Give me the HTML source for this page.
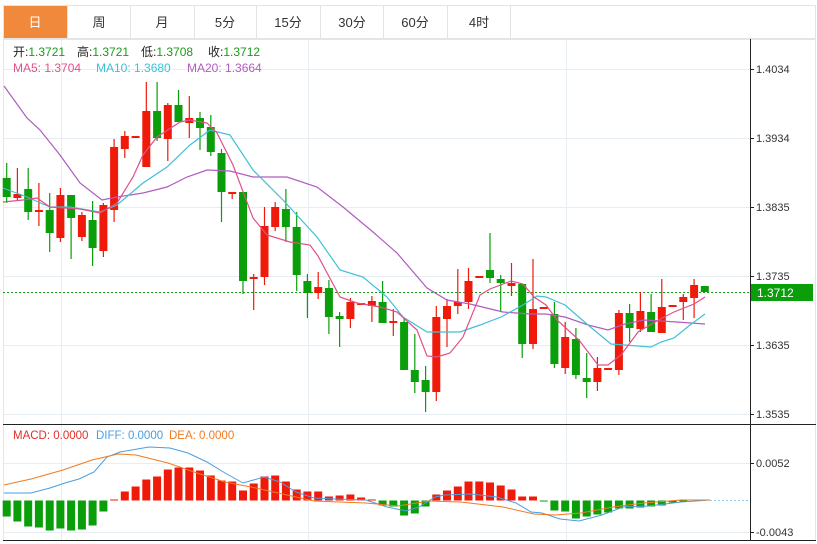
<!DOCTYPE html>
<html><head><meta charset="utf-8"><style>
html,body{margin:0;padding:0;background:#fff;width:817px;height:544px;overflow:hidden}
svg{display:block;font-family:"Liberation Sans","Noto Sans CJK SC",sans-serif}
</style></head><body>
<svg width="817" height="544" viewBox="0 0 817 544" xmlns="http://www.w3.org/2000/svg">
<rect x="0" y="0" width="817" height="544" fill="#fff"/>
<rect x="3.5" y="5.5" width="812" height="33" fill="#fff" stroke="#e3e3e3"/>
<rect x="4" y="6" width="63" height="32" fill="#f0893c"/>
<g stroke="#e3e3e3"><line x1="67.5" y1="6" x2="67.5" y2="38"/><line x1="130.5" y1="6" x2="130.5" y2="38"/><line x1="194.5" y1="6" x2="194.5" y2="38"/><line x1="256.5" y1="6" x2="256.5" y2="38"/><line x1="320.5" y1="6" x2="320.5" y2="38"/><line x1="383.5" y1="6" x2="383.5" y2="38"/><line x1="447.5" y1="6" x2="447.5" y2="38"/><line x1="510.5" y1="6" x2="510.5" y2="38"/></g>
<g font-size="13" text-anchor="middle" fill="#333">
<text x="35" y="27" fill="#fff">日</text><text x="99" y="27">周</text><text x="162" y="27">月</text><text x="225" y="27">5分</text><text x="288" y="27">15分</text><text x="352" y="27">30分</text><text x="415" y="27">60分</text><text x="479" y="27">4时</text>
</g>
<rect x="3.5" y="39.5" width="812" height="501" fill="none" stroke="#e6e6e6"/>
<g stroke="#e6eef4" stroke-width="1">
<line x1="61.5" y1="40" x2="61.5" y2="540"/><line x1="308.5" y1="40" x2="308.5" y2="540"/><line x1="566.5" y1="40" x2="566.5" y2="540"/>
<line x1="4" y1="69.5" x2="750" y2="69.5"/><line x1="4" y1="138.5" x2="750" y2="138.5"/><line x1="4" y1="207.5" x2="750" y2="207.5"/><line x1="4" y1="276.5" x2="750" y2="276.5"/><line x1="4" y1="345.5" x2="750" y2="345.5"/><line x1="4" y1="414.5" x2="750" y2="414.5"/>
<line x1="4" y1="463.5" x2="750" y2="463.5"/><line x1="4" y1="532.5" x2="750" y2="532.5"/>
</g>
<line x1="3" y1="424.5" x2="816" y2="424.5" stroke="#222"/>
<line x1="3" y1="540.5" x2="816" y2="540.5" stroke="#222"/>
<line x1="750.5" y1="39" x2="750.5" y2="541" stroke="#222"/>
<g stroke="#222"><line x1="750" y1="69.5" x2="754" y2="69.5"/><line x1="750" y1="138.5" x2="754" y2="138.5"/><line x1="750" y1="207.5" x2="754" y2="207.5"/><line x1="750" y1="276.5" x2="754" y2="276.5"/><line x1="750" y1="345.5" x2="754" y2="345.5"/><line x1="750" y1="414.5" x2="754" y2="414.5"/><line x1="750" y1="463.5" x2="754" y2="463.5"/><line x1="750" y1="532.5" x2="754" y2="532.5"/></g>
<g font-size="11" fill="#333">
<text x="756" y="73">1.4034</text><text x="756" y="142">1.3934</text><text x="756" y="211">1.3835</text><text x="756" y="280">1.3735</text><text x="756" y="349">1.3635</text><text x="756" y="418">1.3535</text>
<text x="756" y="467">0.0052</text><text x="756" y="536">-0.0043</text>
</g>
<line x1="3" y1="292.5" x2="750" y2="292.5" stroke="#1a9a1a" stroke-dasharray="2,2"/>
<rect x="751" y="284" width="62" height="17" fill="#0a9e0a"/>
<text x="757" y="297" font-size="12" fill="#fff">1.3712</text>
<line x1="710" y1="500.5" x2="750" y2="500.5" stroke="#8ec8ea" stroke-dasharray="2,2"/>
<g font-size="12">
<text x="13" y="56" fill="#222">开:<tspan fill="#1a9a1a">1.3721</tspan></text>
<text x="77" y="56" fill="#222">高:<tspan fill="#1a9a1a">1.3721</tspan></text>
<text x="141" y="56" fill="#222">低:<tspan fill="#1a9a1a">1.3708</tspan></text>
<text x="208" y="56" fill="#222">收:<tspan fill="#1a9a1a">1.3712</tspan></text>
<text x="13" y="72" fill="#e0508a">MA5: 1.3704</text>
<text x="96" y="72" fill="#3fc0d8">MA10: 1.3680</text>
<text x="187" y="72" fill="#b05cc0">MA20: 1.3664</text>
<text x="13" y="439" fill="#e0302a" font-size="11.5">MACD: 0.0000</text>
<text x="96" y="439" fill="#4a9ee0" font-size="11.5">DIFF: 0.0000</text>
<text x="169" y="439" fill="#f07a20" font-size="11.5">DEA: 0.0000</text>
</g>
<path fill="none" stroke="#f01a0a" stroke-width="1.2" d="M17.4 168V200M38.9 183V226M60.4 188V242M81.9 212V241M103.4 203V257M114.1 139V222M124.8 131V158M146.3 82V167M167.8 103V161M189.3 96V138M232.2 192V199M253.7 274V310M264.5 207V285M275.2 202V231M318.2 272V299M350.4 298V328M371.9 296V322M393.3 309V336M436.3 306V401M447 299V347M457.8 269V314M468.5 268V309M511.5 263V296M533 259V349M565.2 322V374M597.4 357V391M618.9 310V375M640.4 292V332M661.8 279V333M683.3 294V320M694.1 279V318"/>
<path fill="#f01a0a" d="M13.4 194h8V198h-8ZM34.9 210h8V212h-8ZM56.4 195h8V238h-8ZM77.9 215h8V237h-8ZM99.4 205h8V251h-8ZM110.1 147h8V210h-8ZM120.8 136h8V149h-8ZM131.6 136h8V138h-8ZM142.3 111h8V167h-8ZM163.8 105h8V139h-8ZM185.3 118h8V123h-8ZM228.2 192h8V194h-8ZM249.7 277h8V279h-8ZM260.5 226h8V277h-8ZM271.2 207h8V227h-8ZM314.2 287h8V293h-8ZM346.4 302h8V319h-8ZM357.1 303h8V305h-8ZM367.9 301h8V306h-8ZM389.3 321h8V323h-8ZM432.3 317h8V392h-8ZM443 306h8V319h-8ZM453.8 302h8V306h-8ZM464.5 281h8V302h-8ZM475.3 276h8V278h-8ZM507.5 283h8V286h-8ZM529 309h8V344h-8ZM539.7 307h8V309h-8ZM561.2 337h8V368h-8ZM593.4 368h8V382h-8ZM604.1 368h8V370h-8ZM614.9 313h8V370h-8ZM636.4 311h8V329h-8ZM657.8 307h8V333h-8ZM668.6 305h8V307h-8ZM679.3 297h8V302h-8ZM690.1 285h8V298h-8Z"/>
<path fill="none" stroke="#0a9e0a" stroke-width="1.2" d="M6.7 163V203M28.2 168V220M49.7 193V252M71.1 195V259M92.6 201V266M157.1 82V141M178.5 90V122M200 112V150M210.8 115V156M221.5 149V222M243 192V294M285.9 189V242M296.7 212V291M307.4 274V318M328.9 280V334M339.6 312V347M382.6 281V323M404.1 318V370M414.8 334V393M425.6 366V412M490 233V283M500.7 275V311M522.2 284V358M554.4 302V368M575.9 328V379M586.7 353V398M629.6 304V342M651.1 294V332M704.8 286V292"/>
<path fill="#0a9e0a" d="M2.7 178h8V197h-8ZM24.2 189h8V212h-8ZM45.7 210h8V233h-8ZM67.1 195h8V218h-8ZM88.6 220h8V248h-8ZM153.1 111h8V138h-8ZM174.5 105h8V122h-8ZM196 118h8V128h-8ZM206.8 127h8V152h-8ZM217.5 153h8V192h-8ZM239 192h8V281h-8ZM281.9 209h8V227h-8ZM292.7 227h8V275h-8ZM303.4 281h8V293h-8ZM324.9 288h8V317h-8ZM335.6 316h8V319h-8ZM378.6 302h8V323h-8ZM400.1 322h8V370h-8ZM410.8 370h8V382h-8ZM421.6 380h8V392h-8ZM486 270h8V278h-8ZM496.7 279h8V283h-8ZM518.2 284h8V344h-8ZM550.4 314h8V364h-8ZM571.9 339h8V375h-8ZM582.7 378h8V382h-8ZM625.6 313h8V328h-8ZM647.1 312h8V332h-8ZM700.8 286h8V292h-8Z"/>
<polyline fill="none" stroke="#b05cc0" stroke-width="1.2" points="4,86 27,118 40,130 60,155 80,183 102,200 117,197 143,193 167,187 187,177 207,170 230,171 253,177 287,177 317,187 343,207 373,232 397,253 427,288 447,300 470,304 503,312 530,314 546,314 565,317 588,325 608,330 625,324 644,320 677,322 705,324"/>
<polyline fill="none" stroke="#3fc0d8" stroke-width="1.2" points="3,188 27,197 50,207 70,207 100,212 117,205 143,183 167,167 190,145 210,130 230,135 253,170 283,200 317,237 340,270 363,277 387,297 403,317 427,332 460,332 480,325 501,317 523,305 537,296 546,297 565,305 588,325 611,344 651,347 661,342 674,338 690,325 705,314"/>
<polyline fill="none" stroke="#e0508a" stroke-width="1.2" points="3,202 23,200 37,198 50,207 80,209 100,213 117,203 133,177 143,155 157,137 180,122 190,120 207,123 217,133 233,165 253,218 267,235 290,242 310,245 318,256 340,297 357,303 380,307 397,312 417,330 427,356 437,357 450,353 463,337 480,295 490,289 511,281 523,284 534,297 546,305 557,320 579,340 598,365 608,365 621,355 638,332 664,317 674,312 694,304 705,297"/>
<path fill="#f01a0a" d="M110.1 499.5h8V500.5h-8ZM120.8 491.5h8V500.5h-8ZM131.6 486.5h8V500.5h-8ZM142.3 479.5h8V500.5h-8ZM153.1 476.5h8V500.5h-8ZM163.8 469.5h8V500.5h-8ZM174.5 467.5h8V500.5h-8ZM185.3 467.5h8V500.5h-8ZM196 470.5h8V500.5h-8ZM206.8 475.5h8V500.5h-8ZM217.5 480.5h8V500.5h-8ZM228.2 481.5h8V500.5h-8ZM239 490.5h8V500.5h-8ZM249.7 483.5h8V500.5h-8ZM260.5 476.5h8V500.5h-8ZM271.2 475.5h8V500.5h-8ZM281.9 481.5h8V500.5h-8ZM292.7 489.5h8V500.5h-8ZM303.4 491.5h8V500.5h-8ZM314.2 491.5h8V500.5h-8ZM324.9 496.5h8V500.5h-8ZM335.6 495.5h8V500.5h-8ZM346.4 494.5h8V500.5h-8ZM357.1 497.5h8V500.5h-8ZM367.9 499.5h8V500.5h-8ZM432.3 494.5h8V500.5h-8ZM443 490.5h8V500.5h-8ZM453.8 486.5h8V500.5h-8ZM464.5 481.5h8V500.5h-8ZM475.3 481.5h8V500.5h-8ZM486 482.5h8V500.5h-8ZM496.7 485.5h8V500.5h-8ZM507.5 489.5h8V500.5h-8ZM518.2 496.5h8V500.5h-8ZM529 496.5h8V500.5h-8Z"/>
<path fill="#0a9e0a" d="M2.7 500.5h8V516.5h-8ZM13.4 500.5h8V521.5h-8ZM24.2 500.5h8V526.5h-8ZM34.9 500.5h8V527.5h-8ZM45.7 500.5h8V530.5h-8ZM56.4 500.5h8V528.5h-8ZM67.1 500.5h8V530.5h-8ZM77.9 500.5h8V529.5h-8ZM88.6 500.5h8V525.5h-8ZM99.4 500.5h8V511.5h-8ZM378.6 500.5h8V505.5h-8ZM389.3 500.5h8V506.5h-8ZM400.1 500.5h8V515.5h-8ZM410.8 500.5h8V513.5h-8ZM421.6 500.5h8V506.5h-8ZM539.7 500.5h8V501.5h-8ZM550.4 500.5h8V510.5h-8ZM561.2 500.5h8V511.5h-8ZM571.9 500.5h8V518.5h-8ZM582.7 500.5h8V516.5h-8ZM593.4 500.5h8V514.5h-8ZM604.1 500.5h8V512.5h-8ZM614.9 500.5h8V508.5h-8ZM625.6 500.5h8V508.5h-8ZM636.4 500.5h8V507.5h-8ZM647.1 500.5h8V506.5h-8ZM657.8 500.5h8V505.5h-8ZM668.6 500.5h8V502.5h-8ZM679.3 500.5h8V501.5h-8Z"/>
<polyline fill="none" stroke="#4a9ee0" stroke-width="1" points="4,493 31,493 50,488 65,483 79,479 94,472 107,457 120,452 149,447 170,448 188,453 207,462 225,473 243,483 264,477 280,482 296,492 314,498 335,499 366,500 387,507 406,511 419,507 435,497 445,495 471,494 497,497 516,503 531,512 542,513 560,519 579,521 602,515 623,507 649,506 681,502 710,500"/>
<polyline fill="none" stroke="#f07a20" stroke-width="1" points="4,485 31,479 63,470 92,460 118,454 136,455 168,463 194,472 225,482 251,487 278,493 314,501 366,503 398,506 429,501 461,502 503,507 534,514 555,515 581,513 613,507 644,503 681,500 710,500"/>
</svg>
</body></html>
